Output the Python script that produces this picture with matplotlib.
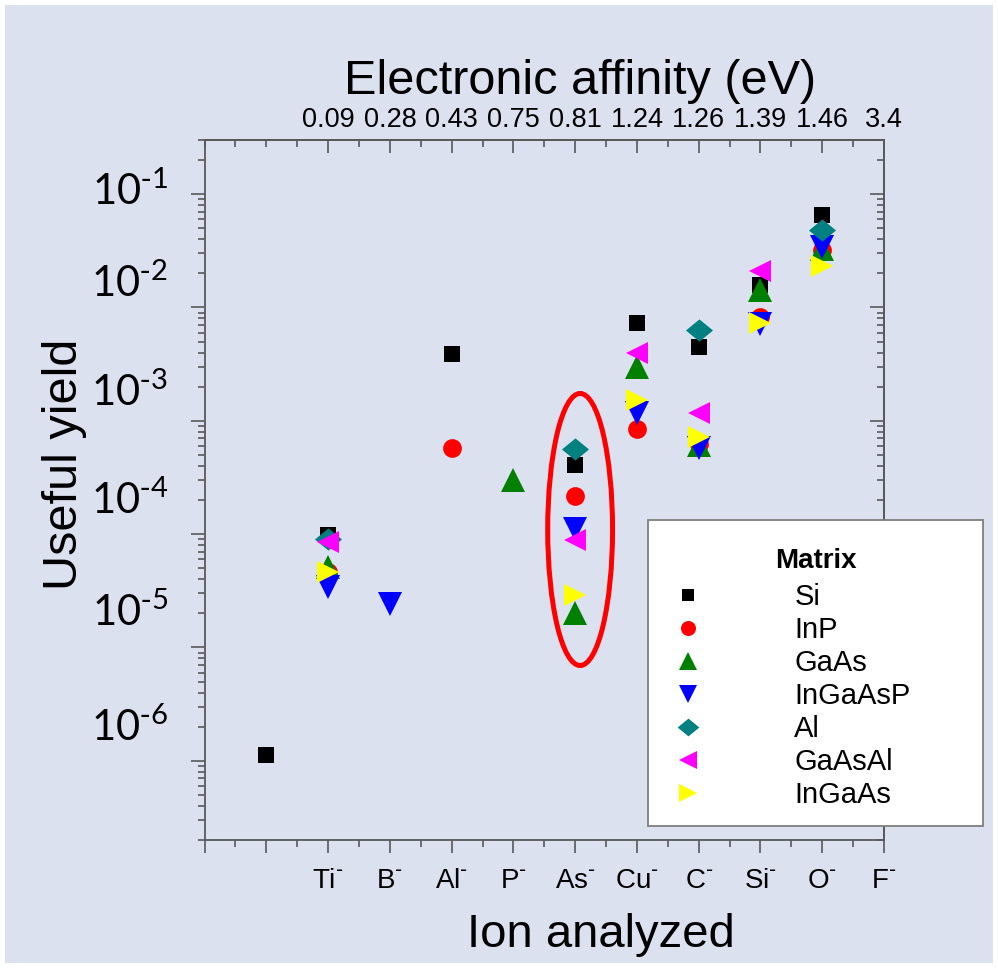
import matplotlib
matplotlib.use("Agg")
import matplotlib.pyplot as plt
from matplotlib.lines import Line2D
from matplotlib.patches import Ellipse, Rectangle
from matplotlib.ticker import MultipleLocator
from matplotlib.transforms import blended_transform_factory, ScaledTranslation

# x positions 0..11; position 1 carries a point but no ion label
ions = ["", "", "Ti", "B", "Al", "P", "As", "Cu", "C", "Si", "O", "F"]
affinity_pos = [2, 3, 4, 5, 6, 7, 8, 9, 10, 11]
affinity = ["0.09", "0.28", "0.43", "0.75", "0.81", "1.24", "1.26", "1.39", "1.46", "3.4"]

# useful yield for each matrix (x = ion position)
si_x = [1, 2, 4, 6, 7, 8, 9, 10]
si_y = [1.13e-6, 9.8e-5, 3.9e-3, 4.1e-4, 7.3e-3, 4.5e-3, 1.57e-2, 6.5e-2]
inp_x = [2, 4, 6, 7, 8, 9, 10]
inp_y = [4.6e-5, 5.75e-4, 2.16e-4, 8.4e-4, 6.2e-4, 8.2e-3, 3.2e-2]
gaas_x = [2, 5, 6, 7, 8, 9, 10]
gaas_y = [5.1e-5, 3.0e-4, 2.0e-5, 3.0e-3, 6.1e-4, 1.42e-2, 3.3e-2]
ingaasp_x = [2, 3, 6, 7, 8, 9, 10]
ingaasp_y = [3.4e-5, 2.44e-5, 1.1e-4, 1.16e-3, 5.7e-4, 7.2e-3, 3.4e-2]
al_x = [2, 6, 8, 10]
al_y = [9.1e-5, 5.6e-4, 6.3e-3, 4.85e-2]
gaasal_x = [2, 6, 7, 8, 9]
gaasal_y = [8.5e-5, 8.8e-5, 4.0e-3, 1.17e-3, 2.1e-2]
ingaas_x = [2, 6, 7, 8, 9, 10]
ingaas_y = [4.6e-5, 2.9e-5, 1.52e-3, 7.2e-4, 7.3e-3, 2.3e-2]

BG = "#DCE1F0"
AXC = "#595959"
diamond = [(0, 1), (1.22, 0), (0, -1), (-1.22, 0)]

series = [
    ("Si", si_x, si_y, "s", 11.5, "#000000"),
    ("InP", inp_x, inp_y, "o", 13.5, "#FF0000"),
    ("GaAs", gaas_x, gaas_y, "^", 17, "#008000"),
    ("InGaAsP", ingaasp_x, ingaasp_y, "v", 17, "#0000FF"),
    ("Al", al_x, al_y, diamond, 19.5, "#008080"),
    ("GaAsAl", gaasal_x, gaasal_y, "<", 16.5, "#FF00FF"),
    ("InGaAs", ingaas_x, ingaas_y, ">", 16, "#FFFF00"),
]

plt.rcParams["font.family"] = ["Liberation Sans", "DejaVu Sans"]

fig = plt.figure(figsize=(9.98, 9.68), dpi=100, facecolor="white")
fig.patches.append(Rectangle((5 / 998, 5 / 968), 988 / 998, 958 / 968,
                             transform=fig.transFigure, facecolor=BG,
                             edgecolor="none", zorder=-5))
ax = fig.add_axes([0.2050, 0.1322, 0.6808, 0.7232])
ax.set_facecolor(BG)

for name, xs, ys, mk, ms, col in series:
    ax.plot(xs, ys, linestyle="none", marker=mk, markersize=ms,
            color=col, markeredgewidth=0, zorder=3)

ax.set_yscale("log")
ax.set_ylim(2e-7, 0.3)
ax.set_xlim(0, 11)

for sp in ax.spines.values():
    sp.set_color(AXC)
    sp.set_linewidth(1.3)

# bottom axis: ion analyzed
ax.set_xticks(range(len(ions)))
ax.set_xticklabels([rf"$\mathregular{{{s}}}^{{\text{{-}}}}$" if s else "" for s in ions],
                   fontsize=20)
ax.xaxis.set_minor_locator(MultipleLocator(0.5))
ax.tick_params(axis="x", which="major", direction="out", length=9, width=1.2,
               color=AXC, pad=11)
ax.tick_params(axis="x", which="minor", direction="out", length=5, width=1.2,
               color=AXC)
ax.set_xlabel("Ion analyzed", fontsize=34, va="center")
ax.xaxis.set_label_coords(0.583, -0.136)

# left axis: useful yield (labels drawn as text, shifted as in the original)
ax.tick_params(axis="y", which="major", direction="out", length=10, width=1.2,
               color=AXC, labelleft=False)
ax.tick_params(axis="y", which="minor", direction="out", length=5, width=1.2,
               color=AXC)
ax.set_ylabel("Useful yield", fontsize=35, va="center")
ax.yaxis.set_label_coords(-0.2055, 0.536)

ylab_exp = [-1, -2, -3, -4, -5, -6]
ylab_shift = [3, 24, 29, 34, 35, 34]
trans = blended_transform_factory(ax.transAxes, ax.transData)
for e, dy in zip(ylab_exp, ylab_shift):
    ax.text(-0.054, 10.0 ** e, rf"$\mathregular{{10}}^{{\text{{-}}\mathregular{{{-e}}}}}$",
            transform=trans + ScaledTranslation(0, dy / 100, fig.dpi_scale_trans),
            ha="right", va="center", fontsize=30, family=["Lato", "DejaVu Sans"])

# top axis: electronic affinity
top = ax.secondary_xaxis("top")
top.set_xticks(affinity_pos)
top.set_xticklabels(affinity, fontsize=19.5)
top.xaxis.set_minor_locator(MultipleLocator(0.5))
top.tick_params(which="major", direction="in", length=9, width=1.2, color=AXC, pad=5)
top.tick_params(which="minor", direction="in", length=5, width=1.2, color=AXC)
top.spines["top"].set_color(AXC)
top.spines["top"].set_linewidth(1.3)
ax.text(0.5526, 1.083, "Electronic affinity (eV)", transform=ax.transAxes,
        fontsize=35, ha="center", va="center")

right = ax.secondary_yaxis("right")
right.tick_params(which="major", direction="in", length=10, width=1.2, color=AXC,
                  labelright=False)
right.tick_params(which="minor", direction="in", length=5, width=1.2, color=AXC)
right.spines["right"].set_color(AXC)
right.spines["right"].set_linewidth(1.3)

# red ellipse around the As- group
ell = Ellipse((6.08, 0.4436), 1.05, 0.3886,
              transform=blended_transform_factory(ax.transData, ax.transAxes),
              facecolor="none", edgecolor="#FF0000", linewidth=3.6, zorder=4)
ax.add_patch(ell)

# legend box
fig.patches.append(Rectangle((648 / 998, 1 - 826 / 968), 335 / 998, 306 / 968,
                             transform=fig.transFigure, facecolor="white",
                             edgecolor="#7F7F7F", linewidth=1.3, zorder=2))
fig.text(816 / 998, 1 - 561 / 968, "Matrix", fontsize=20, fontweight="bold",
         ha="center", va="center", zorder=6)
handles = [Line2D([], [], linestyle="none", marker=mk, markersize=ms * 0.8,
                  color=col, markeredgewidth=0, label=name)
           for name, xs, ys, mk, ms, col in series]
fig.legend(handles=handles, loc="upper left",
           bbox_to_anchor=(666 / 998, 1 - 583 / 968), frameon=False,
           fontsize=21, handlelength=1.5, handletextpad=2.9, labelspacing=0.17,
           borderpad=0, borderaxespad=0)

fig.savefig("out.png", dpi=100, facecolor="white")
